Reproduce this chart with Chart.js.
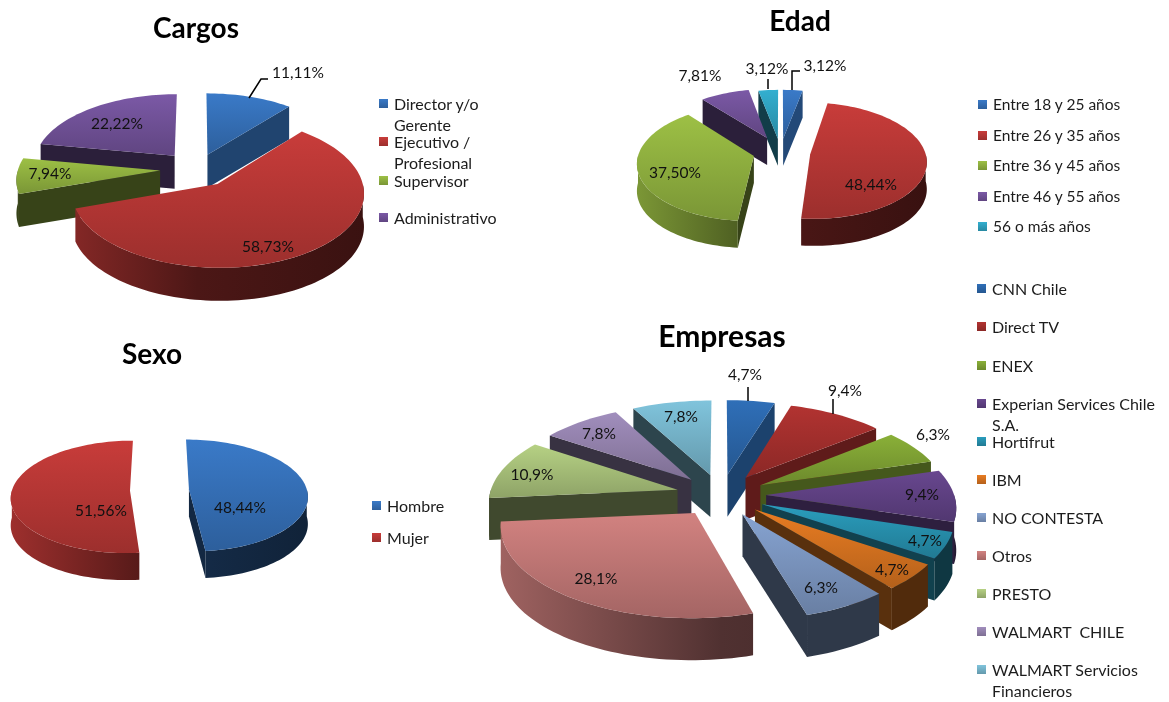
<!DOCTYPE html>
<html lang="es">
<head>
<meta charset="utf-8">
<title>Encuesta</title>
<script src="https://cdn.jsdelivr.net/npm/chart.js"></script>
<style>
  html, body { margin: 0; background: #fff; }
  #page { position: relative; width: 1169px; height: 702px; overflow: hidden; font-family: Lato, sans-serif; }
  canvas { position: absolute; left: 0; top: 0; }
  .title { position: absolute; font-weight: 700; line-height: 32px; color: #000; transform: translate(-50%, -50%); }
  .legend-item { position: absolute; line-height: 21px; color: #1c1c1c; white-space: pre-wrap; }
  .legend-item i { position: absolute; left: -15px; top: 6px; width: 9px; height: 9px; }
</style>
</head>
<body>
<div id="page"></div>
<script>
// Survey results
const cargosLabels = ["Director y/o Gerente", "Ejecutivo / Profesional", "Supervisor", "Administrativo"];
const cargosValues = [11.11, 58.73, 7.94, 22.22];

const edadLabels = ["Entre 18 y 25 años", "Entre 26 y 35 años", "Entre 36 y 45 años", "Entre 46 y 55 años", "56 o más años"];
const edadValues = [3.12, 48.44, 37.5, 7.81, 3.12];

const sexoLabels = ["Hombre", "Mujer"];
const sexoValues = [48.44, 51.56];

const empresasLabels = [
  "CNN Chile",
  "Direct TV",
  "ENEX",
  "Experian Services Chile S.A.",
  "Hortifrut",
  "IBM",
  "NO CONTESTA",
  "Otros",
  "PRESTO",
  "WALMART  CHILE",
  "WALMART Servicios Financieros",
];
const empresasValues = [4.7, 9.4, 6.3, 9.4, 4.7, 4.7, 6.3, 28.1, 10.9, 7.8, 7.8];

// Slice colours
const basePalette = ["#3a7ac8", "#c83c3a", "#9dc045", "#7b59a6", "#33afd0"];
const empresasPalette = [
  "#2f6fb8", "#b23331", "#8ab038", "#68478f", "#2a9dbd", "#e87c22",
  "#86a3d1", "#d28280", "#b6d184", "#a18ebd", "#80c4dc",
];

// Multiply a hex colour by k
function shade(hex, k) {
  const n = parseInt(hex.slice(1), 16);
  const r = Math.round(((n >> 16) & 255) * k);
  const g = Math.round(((n >> 8) & 255) * k);
  const b = Math.round((n & 255) * k);
  return "rgb(" + r + "," + g + "," + b + ")";
}

// Draws the arcs computed by the pie controller as tilted, extruded slices
function pie3d(view) {
  // u, v are in units of the pie radius, v grows towards the viewer
  function project(u, v) {
    const f = 1 / (1 - view.persp * v);
    return { x: view.cx + view.rx * u * f, y: view.cy + view.ry * v * f };
  }

  function tracePath(ctx, points) {
    ctx.beginPath();
    points.forEach(function (p, i) {
      if (i === 0) ctx.moveTo(p.x, p.y);
      else ctx.lineTo(p.x, p.y);
    });
    ctx.closePath();
  }

  function drop(points) {
    return points.map(function (p) {
      return { x: p.x, y: p.y + view.depth };
    }).reverse();
  }

  function drawSlice(ctx, s) {
    const apex = project(s.du, s.dv);
    const rimAt = function (a) {
      return project(Math.cos(a) + s.du, Math.sin(a) + s.dv);
    };
    const sampleRim = function (from, to) {
      const steps = Math.max(2, Math.ceil((to - from) * 30));
      const points = [];
      for (let i = 0; i <= steps; i++) {
        points.push(rimAt(from + ((to - from) * i) / steps));
      }
      return points;
    };
    const rim = sampleRim(s.start, s.end);
    const first = rim[0];
    const last = rim[rim.length - 1];

    // Cut faces, only the ones turned towards the viewer.
    // clock is 0 at 12 o'clock, 1 at 6 o'clock, 2 back at 12 o'clock
    const startClock = (s.start + Math.PI / 2) / Math.PI;
    const endClock = (s.end + Math.PI / 2) / Math.PI;
    if (startClock > 1) {
      const face = [apex, first];
      tracePath(ctx, face.concat(drop(face)));
      ctx.fillStyle = shade(s.color, 0.35);
      ctx.fill();
    }
    if (endClock < 1) {
      // faces pointing forward get less light than the ones pointing right
      const face = [apex, last];
      tracePath(ctx, face.concat(drop(face)));
      ctx.fillStyle = shade(s.color, 0.62 - 0.3 * endClock);
      ctx.fill();
    }

    // Outer wall: the front half of the rim, angle 0 points right
    const from = Math.max(s.start, 0);
    const to = Math.min(s.end, Math.PI);
    if (to > from) {
      const wall = sampleRim(from, to);
      tracePath(ctx, wall.concat(drop(wall)));
      if (to - from < 0.4) {
        // a thin sliver next to a cut face reads as part of that face
        ctx.fillStyle = shade(s.color, 0.35);
      } else {
        const grad = ctx.createLinearGradient(view.cx - view.rx * 1.3, 0, view.cx + view.rx * 1.3, 0);
        grad.addColorStop(0, shade(s.color, 0.8));
        grad.addColorStop(0.5, shade(s.color, 0.38));
        grad.addColorStop(1, shade(s.color, 0.28));
        ctx.fillStyle = grad;
      }
      ctx.fill();
    }

    // Top face
    const top = [apex].concat(rim);
    const ys = top.map(function (p) { return p.y; });
    const topGrad = ctx.createLinearGradient(0, Math.min.apply(null, ys), 0, Math.max.apply(null, ys));
    topGrad.addColorStop(0, shade(s.color, 1));
    topGrad.addColorStop(1, shade(s.color, 0.78));
    tracePath(ctx, top);
    ctx.fillStyle = topGrad;
    ctx.fill();
  }

  return {
    id: "pie3d",
    // The flat arcs are replaced by the extruded ones below
    beforeDatasetsDraw: function (chart) {
      const ctx = chart.ctx;
      const arcs = chart.getDatasetMeta(0).data;
      const slices = arcs.map(function (arc) {
        const mid = (arc.startAngle + arc.endAngle) / 2;
        const off = arc.options.offset / arc.outerRadius;
        return {
          start: arc.startAngle,
          end: arc.endAngle,
          du: Math.cos(mid) * off,
          dv: Math.sin(mid) * off,
          depthKey: Math.sin(mid) * (off + 0.6),
          color: arc.options.backgroundColor,
        };
      });
      // Painter's order, back to front
      slices.slice().sort(function (a, b) {
        return a.depthKey - b.depthKey;
      }).forEach(function (s) {
        drawSlice(ctx, s);
      });

      ctx.save();
      ctx.strokeStyle = "#000";
      ctx.lineWidth = 1.5;
      view.leaders.forEach(function (line) {
        ctx.beginPath();
        line.forEach(function (p, i) {
          if (i === 0) ctx.moveTo(p[0], p[1]);
          else ctx.lineTo(p[0], p[1]);
        });
        ctx.stroke();
      });
      ctx.fillStyle = "#111";
      ctx.font = "15.5px Lato, sans-serif";
      ctx.textAlign = "center";
      ctx.textBaseline = "middle";
      chart.data.datasets[0].data.forEach(function (value, i) {
        const text = value.toFixed(view.decimals).replace(".", ",") + "%";
        ctx.fillText(text, view.labelPos[i][0], view.labelPos[i][1]);
      });
      ctx.restore();
      return false;
    },
  };
}

const page = document.getElementById("page");

function addPie(labels, values, colors, offsets, view) {
  const canvas = document.createElement("canvas");
  canvas.width = 1169;
  canvas.height = 702;
  page.appendChild(canvas);
  new Chart(canvas, {
    type: "pie",
    data: {
      labels: labels,
      datasets: [
        {
          data: values,
          backgroundColor: colors,
          offset: offsets,
          borderWidth: 0,
        },
      ],
    },
    options: {
      responsive: false,
      animation: false,
      radius: 100,
      events: [],
      plugins: {
        legend: { display: false },
        tooltip: { enabled: false },
      },
    },
    plugins: [pie3d(view)],
  });
}

function addTitle(text, x, y, size) {
  const el = document.createElement("div");
  el.className = "title";
  el.textContent = text;
  el.style.left = x + "px";
  el.style.top = y + "px";
  el.style.fontSize = size + "px";
  page.appendChild(el);
}

function addLegend(labels, colors, x, ys, width, size) {
  labels.forEach(function (label, i) {
    const item = document.createElement("div");
    item.className = "legend-item";
    item.style.left = x + "px";
    item.style.top = ys[i] - 11 + "px";
    item.style.width = width + "px";
    item.style.fontSize = size + "px";
    item.textContent = label;
    const swatch = document.createElement("i");
    swatch.style.background = "linear-gradient(" + colors[i] + ", " + shade(colors[i], 0.78) + ")";
    item.appendChild(swatch);
    page.appendChild(item);
  });
}

// Cargos
addPie(cargosLabels, cargosValues, basePalette, [22, 25, 26, 25], {
  cx: 197, cy: 169, rx: 142, ry: 71, persp: 0.11, depth: 33, decimals: 2,
  labelPos: [[298, 73], [268, 247], [50, 174], [117, 124]],
  leaders: [[[249, 98], [261, 79], [268, 79]]],
});
addTitle("Cargos", 196, 27, 28);
addLegend(cargosLabels, basePalette, 394, [104, 142, 181, 218], 112, 16);

// Edad
addPie(edadLabels, edadValues, basePalette, [24, 26, 24, 28, 24], {
  cx: 780.5, cy: 152, rx: 115, ry: 57, persp: 0.11, depth: 27, decimals: 2,
  labelPos: [[825, 66], [871, 185], [675, 173], [700, 76], [767, 69]],
  leaders: [[[792, 90], [792, 71], [800, 71]], [[768, 89], [768, 79]]],
});
addTitle("Edad", 800, 20, 28);
addLegend(edadLabels, basePalette, 993, [105, 136, 166, 197, 227], 170, 15.5);

// Sexo
addPie(sexoLabels, sexoValues, basePalette, [25, 25], {
  cx: 159.5, cy: 490, rx: 118, ry: 55.4, persp: 0.11, depth: 27, decimals: 2,
  labelPos: [[240, 508], [101, 511]],
  leaders: [],
});
addTitle("Sexo", 152, 353, 28);
addLegend(sexoLabels, basePalette, 387, [506, 538], 100, 16);

// Empresas
addPie(empresasLabels, empresasValues, empresasPalette, [24, 24, 24, 24, 24, 24, 24, 24, 24, 24, 24], {
  cx: 721, cy: 495, rx: 188, ry: 88, persp: 0.12, depth: 42, decimals: 1,
  labelPos: [
    [745, 375], [845, 391], [933, 435], [922, 495], [925, 541], [892, 570],
    [821, 588], [596, 579], [532, 475], [599, 434], [681, 417],
  ],
  leaders: [[[748, 387], [748, 401]], [[833, 399], [833, 414]]],
});
addTitle("Empresas", 722, 335, 30);
addLegend(
  empresasLabels,
  empresasPalette,
  992,
  [289, 327, 366, 404, 442, 480, 518, 556, 594, 632, 670],
  172,
  16
);
</script>
</body>
</html>
